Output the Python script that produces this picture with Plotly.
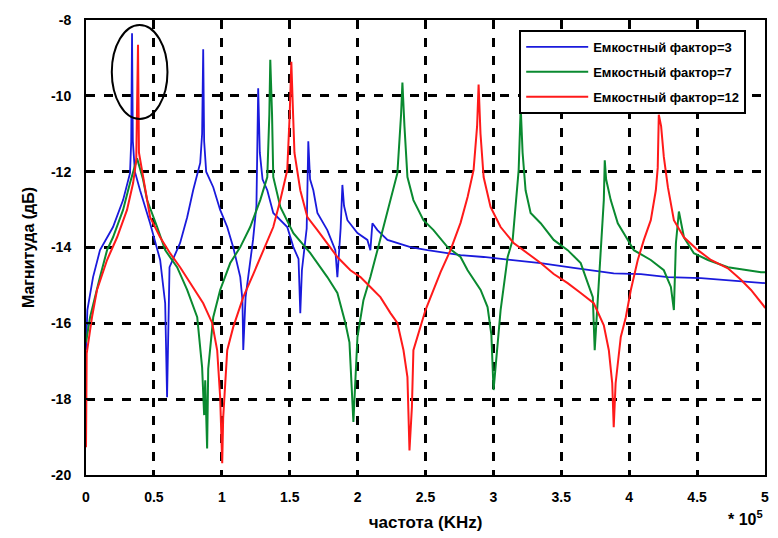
import plotly.graph_objects as go

# ---------------- data ----------------
blue_x = [0, 0.01, 0.052, 0.103, 0.199, 0.273, 0.324, 0.333, 0.339, 0.345, 0.36, 0.398, 0.472,
          0.546, 0.583, 0.597, 0.615, 0.693, 0.745, 0.789, 0.841, 0.855, 0.863, 0.87, 0.885,
          0.937, 0.988, 1.04, 1.084, 1.136, 1.152, 1.158, 1.175, 1.20, 1.23, 1.255, 1.262,
          1.268, 1.28, 1.30, 1.335, 1.379, 1.482, 1.527, 1.565, 1.578, 1.59, 1.625, 1.637,
          1.65, 1.674, 1.704, 1.777, 1.836, 1.851, 1.875, 1.888, 1.9, 1.925, 1.999, 2.072,
          2.094, 2.109, 2.146, 2.22, 2.389, 2.515, 2.758, 2.928, 3.348, 3.591, 3.886, 4.086,
          4.285, 4.528, 4.971, 5.0]
blue_y = [-16.7, -15.65, -14.78, -14.07, -13.46, -12.75, -12.04, -11.2, -8.35, -11.2, -12.0,
          -12.49, -13.36, -14.33, -15.47, -17.95, -14.52, -13.88, -13.2, -12.49, -11.77, -11.0,
          -8.77, -11.2, -12.0, -12.41, -13.01, -13.46, -13.99, -14.78, -15.39, -16.7, -15.31,
          -14.6, -13.8, -12.9, -11.2, -9.8, -11.5, -12.2, -12.49, -13.09, -13.46, -13.99, -14.3,
          -15.73, -14.6, -13.5, -11.2, -12.2, -12.49, -13.09, -13.54, -14.07, -14.78, -13.5,
          -12.35, -12.9, -13.28, -13.62, -13.8, -14.07, -13.36, -13.54, -13.8, -13.99, -14.07,
          -14.2, -14.25, -14.41, -14.54, -14.68, -14.7, -14.78, -14.81, -14.94, -14.94]

green_x = [0, 0.03, 0.103, 0.155, 0.199, 0.273, 0.324, 0.376, 0.42, 0.45, 0.524, 0.583, 0.671,
           0.745, 0.819, 0.855, 0.87, 0.878, 0.892, 0.90, 0.937, 0.988, 1.062, 1.136, 1.209,
           1.283, 1.335, 1.35, 1.357, 1.37, 1.379, 1.431, 1.527, 1.652, 1.777, 1.851, 1.91,
           1.94, 1.969, 1.999, 2.043, 2.094, 2.146, 2.19, 2.242, 2.293, 2.32, 2.33, 2.345,
           2.367, 2.411, 2.485, 2.559, 2.662, 2.758, 2.81, 2.906, 2.957, 2.985, 3.001, 3.053,
           3.105, 3.142, 3.164, 3.186, 3.201, 3.215, 3.237, 3.274, 3.348, 3.444, 3.547, 3.643,
           3.695, 3.732, 3.746, 3.776, 3.791, 3.813, 3.82, 3.83, 3.864, 3.916, 3.99, 4.034,
           4.159, 4.255, 4.307, 4.329, 4.344, 4.358, 4.366, 4.403, 4.476, 4.58, 4.727, 4.971, 5.0]
green_y = [-16.5, -15.84, -14.78, -14.07, -13.73, -13.01, -12.3, -11.65, -12.2, -12.75, -13.46,
           -14.07, -14.52, -15.12, -15.84, -17.16, -18.42, -17.5, -19.3, -17.2, -15.84, -15.12,
           -14.41, -13.99, -13.46, -12.75, -12.14, -10.5, -9.05, -10.5, -12.14, -12.93, -13.62,
           -14.15, -14.78, -15.2, -15.99, -16.5, -18.6, -16.36, -15.39, -14.78, -14.07, -13.46,
           -12.75, -12.04, -10.5, -9.65, -10.8, -12.14, -12.75, -13.28, -13.54, -13.99, -14.25,
           -14.6, -15.12, -15.57, -16.3, -17.76, -15.65, -14.25, -13.8, -12.75, -11.96, -10.3,
           -11.5, -12.49, -13.09, -13.36, -13.8, -14.07, -14.41, -14.94, -15.31, -16.71, -14.94,
           -14.07, -12.75, -11.7, -12.2, -12.75, -13.36, -13.8, -14.07, -14.33, -14.6, -15.04,
           -15.65, -13.88, -13.2, -13.05, -13.73, -14.15, -14.33, -14.52, -14.65, -14.65]

red_x = [0, 0.005, 0.044, 0.081, 0.155, 0.229, 0.302, 0.347, 0.37, 0.383, 0.39, 0.42, 0.472,
         0.546, 0.619, 0.693, 0.767, 0.863, 0.929, 0.966, 0.988, 1.003, 1.01, 1.04, 1.084,
         1.158, 1.232, 1.305, 1.379, 1.431, 1.482, 1.50, 1.512, 1.525, 1.535, 1.578, 1.63,
         1.704, 1.777, 1.851, 1.947, 2.021, 2.094, 2.168, 2.242, 2.293, 2.338, 2.367, 2.382,
         2.40, 2.411, 2.463, 2.50, 2.559, 2.611, 2.684, 2.758, 2.81, 2.854, 2.88, 2.891, 2.905,
         2.928, 2.979, 3.053, 3.149, 3.252, 3.348, 3.444, 3.547, 3.643, 3.739, 3.813, 3.85,
         3.875, 3.886, 3.90, 3.938, 3.975, 4.012, 4.063, 4.108, 4.159, 4.196, 4.21, 4.218,
         4.235, 4.255, 4.285, 4.329, 4.403, 4.506, 4.602, 4.727, 4.823, 4.897, 4.993, 5.0]
red_y = [-19.27, -16.8, -15.84, -15.12, -14.33, -13.73, -13.01, -12.3, -11.7, -8.65, -11.5,
         -12.14, -13.2, -13.73, -14.15, -14.52, -14.94, -15.47, -15.99, -16.71, -17.95, -19.69,
         -18.5, -16.71, -16.1, -15.31, -14.7, -14.07, -13.46, -12.75, -11.96, -10.5, -9.1,
         -10.5, -11.5, -12.49, -13.2, -13.54, -13.88, -14.25, -14.6, -14.78, -15.04, -15.31,
         -15.73, -15.99, -16.71, -17.42, -19.35, -18.2, -16.71, -16.1, -15.65, -15.12, -14.65,
         -14.07, -13.35, -12.67, -11.96, -10.8, -9.7, -11.0, -12.14, -12.93, -13.46, -13.88,
         -14.15, -14.41, -14.7, -14.94, -15.2, -15.47, -16.05, -16.71, -17.58, -18.74, -17.58,
         -16.36, -15.84, -15.12, -14.33, -13.8, -13.28, -12.49, -11.9, -10.5, -10.8, -11.61,
         -12.41, -13.28, -13.73, -14.07, -14.33, -14.55, -14.85, -15.12, -15.55, -15.6]

series_names = ["Емкостный фактор=3", "Емкостный фактор=7", "Емкостный фактор=12"]
series_colors = ["#1a1adc", "#0a8a30", "#ff1a1a"]

x_ticks = [0, 0.5, 1, 1.5, 2, 2.5, 3, 3.5, 4, 4.5, 5]
x_tick_labels = ["0", "0.5", "1", "1.5", "2", "2.5", "3", "3.5", "4", "4.5", "5"]
y_ticks = [-20, -18, -16, -14, -12, -10, -8]
y_tick_labels = ["-20", "-18", "-16", "-14", "-12", "-10", "-8"]

x_title = "частота (KHz)"
y_title = "Магнитуда (дБ)"
x_multiplier = "* 10<sup>5</sup>"

# ellipse highlighting the first resonance (data coordinates)
ellipse_x = [0.19, 0.60]
ellipse_y = [-10.61, -8.13]

FONT = "Liberation Sans, Arial, sans-serif"

fig = go.Figure()
for xs, ys, name, col, w in zip([blue_x, green_x, red_x], [blue_y, green_y, red_y],
                                series_names, series_colors, [1.8, 2.0, 2.0]):
    fig.add_trace(go.Scatter(x=xs, y=ys, mode="lines", name=name, legendgroup=name,
                             line=dict(color=col, width=w)))

fig.add_shape(type="circle", xref="x", yref="y",
              x0=ellipse_x[0], x1=ellipse_x[1], y0=ellipse_y[0], y1=ellipse_y[1],
              line=dict(color="black", width=2))

fig.add_annotation(text="<b>" + x_multiplier + "</b>", xref="paper", yref="paper",
                   x=1.0, y=-0.095, xanchor="right", yanchor="middle", showarrow=False,
                   font=dict(family=FONT, size=16, color="black"))

axis_common = dict(showline=True, linecolor="black", linewidth=2, mirror=True,
                   showgrid=True, gridcolor="black", gridwidth=2.5, griddash="dash",
                   zeroline=False, ticks="inside", ticklen=5, tickcolor="black",
                   tickwidth=2, automargin=False,
                   tickfont=dict(family=FONT, size=14, color="black", weight="bold"))

fig.update_xaxes(range=[0, 5], tickvals=x_ticks, ticktext=x_tick_labels,
                 title=dict(text="<b>" + x_title + "</b>", standoff=12,
                            font=dict(family=FONT, size=17, color="black")),
                 ticklabelstandoff=8, **axis_common)
fig.update_yaxes(range=[-20, -8], tickvals=y_ticks, ticktext=y_tick_labels,
                 title=dict(text="<b>" + y_title + "</b>", standoff=12,
                            font=dict(family=FONT, size=16, color="black")),
                 ticklabelstandoff=10, **axis_common)

# the page body adds an 8px offset, so the figure is sized to fit the window
fig.update_layout(
    width=770, height=530, autosize=False,
    margin=dict(l=78, r=13, t=12, b=63),
    plot_bgcolor="white", paper_bgcolor="white",
    showlegend=True,
    legend=dict(x=0.638, y=0.978, xanchor="left", yanchor="top",
                bgcolor="white", bordercolor="black", borderwidth=2,
                font=dict(family=FONT, size=13, color="black", weight="bold"),
                itemwidth=62, tracegroupgap=5),
)

fig.write_html("out.html")
